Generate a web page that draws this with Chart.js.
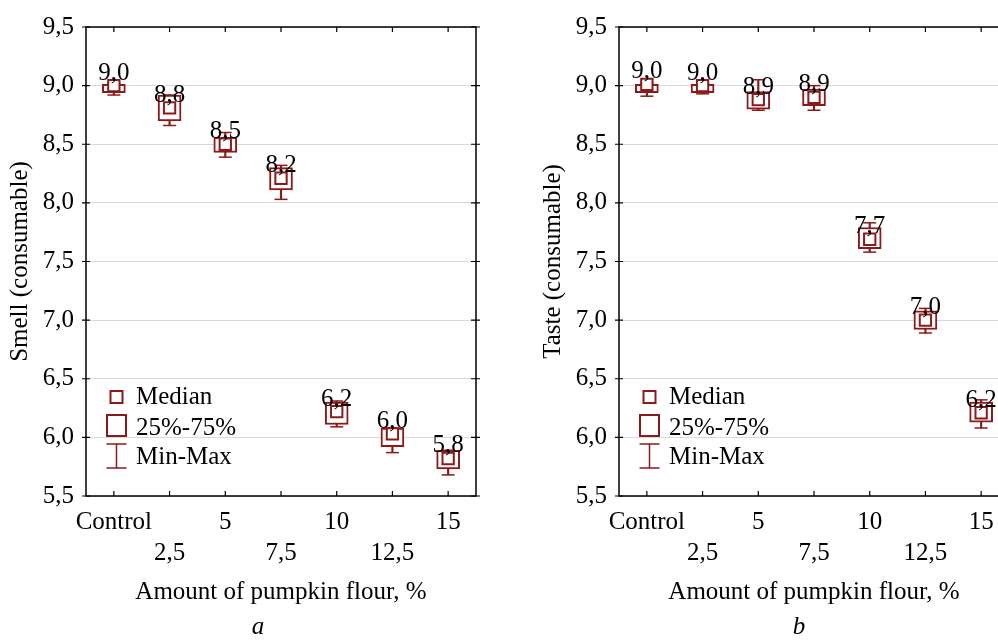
<!DOCTYPE html>
<html>
<head>
<meta charset="utf-8">
<script src="https://cdn.jsdelivr.net/npm/chart.js@4.4.1/dist/chart.umd.min.js"></script>
<style>
  html, body { margin: 0; padding: 0; background: #fff; overflow: hidden; }
  #wrap { position: relative; width: 998px; height: 641px; overflow: hidden; }
  .panel { position: absolute; top: 0; }
</style>
</head>
<body>
<div id="wrap">
  <canvas id="smell-chart" class="panel" width="533" height="641" style="left:0"></canvas>
  <canvas id="taste-chart" class="panel" width="533" height="641" style="left:533px"></canvas>
</div>
<script>
// Categories (pumpkin flour amount)
const categories = ['Control', '2,5', '5', '7,5', '10', '12,5', '15'];

// Smell scores: median, quartiles, min-max
const smellMedian = [9.0, 8.81, 8.5, 8.21, 6.22, 6.03, 5.82];
const smellQ1 = [8.94, 8.70, 8.43, 8.11, 6.11, 5.92, 5.73];
const smellQ3 = [9.01, 8.92, 8.56, 8.30, 6.30, 6.08, 5.89];
const smellMin = [8.92, 8.66, 8.39, 8.03, 6.09, 5.87, 5.68];
const smellMax = [9.02, 8.92, 8.60, 8.32, 6.31, 6.08, 5.89];

// Taste scores: median, quartiles, min-max
const tasteMedian = [9.01, 9.0, 8.88, 8.9, 7.69, 7.0, 6.21];
const tasteQ1 = [8.94, 8.94, 8.80, 8.83, 7.61, 6.92, 6.13];
const tasteQ3 = [9.01, 9.01, 8.95, 8.97, 7.79, 7.08, 6.30];
const tasteMin = [8.91, 8.93, 8.79, 8.79, 7.58, 6.89, 6.08];
const tasteMax = [9.02, 9.02, 9.05, 9.00, 7.83, 7.10, 6.32];

// Y axis range and step
const yMin = 5.5;
const yMax = 9.5;
const yStep = 0.5;

const RED = 'rgb(140, 26, 26)';
const FONT = '"Liberation Serif", "Times New Roman", serif';

const comma = (v) => v.toFixed(1).replace('.', ',');

// Frame round the plot area with small inward ticks
const framePlugin = {
    id: 'frame',
    beforeDatasetsDraw(chart) {
        const { ctx, chartArea: a, scales: { x, y } } = chart;
        ctx.save();
        ctx.strokeStyle = '#000';
        ctx.lineWidth = 1.5;
        ctx.strokeRect(a.left, a.top, a.right - a.left, a.bottom - a.top);
        ctx.lineWidth = 1.2;
        ctx.beginPath();
        x.ticks.forEach((t, i) => {
            const px = x.getPixelForTick(i);
            ctx.moveTo(px, a.bottom); ctx.lineTo(px, a.bottom - 5);
            ctx.moveTo(px, a.top); ctx.lineTo(px, a.top + 5);
        });
        y.ticks.forEach((t, i) => {
            const py = y.getPixelForTick(i);
            ctx.moveTo(a.left - 4, py); ctx.lineTo(a.left + 4, py);
            ctx.moveTo(a.right - 5, py); ctx.lineTo(a.right + 4, py);
        });
        ctx.stroke();
        ctx.restore();
    }
};

// Median value written above each box
const valueLabels = {
    id: 'valueLabels',
    afterDatasetsDraw(chart) {
        const { ctx } = chart;
        const meta = chart.getDatasetMeta(0);
        const values = chart.data.datasets[0].data;
        ctx.save();
        ctx.font = '25px ' + FONT;
        ctx.fillStyle = '#000';
        ctx.textAlign = 'center';
        ctx.textBaseline = 'alphabetic';
        meta.data.forEach((pt, i) => {
            ctx.fillText(comma(values[i]), pt.x, pt.y - 6);
        });
        ctx.restore();
    }
};

// Legend in the lower left corner of the plot, and the panel letter
const boxLegend = {
    id: 'boxLegend',
    afterDatasetsDraw(chart, args, opts) {
        const { ctx, chartArea: a } = chart;
        const cx = a.left + 30.5;
        const tx = a.left + 50;
        const b = a.bottom;
        ctx.save();
        ctx.strokeStyle = RED;
        ctx.lineWidth = 2;
        ctx.strokeRect(cx - 6, b - 105, 12, 12);
        ctx.strokeRect(cx - 9.5, b - 81, 19, 21);
        ctx.lineWidth = 1.5;
        ctx.beginPath();
        ctx.moveTo(cx - 10, b - 52); ctx.lineTo(cx + 10, b - 52);
        ctx.moveTo(cx, b - 52); ctx.lineTo(cx, b - 28);
        ctx.moveTo(cx - 10, b - 28); ctx.lineTo(cx + 10, b - 28);
        ctx.stroke();
        ctx.font = '25px ' + FONT;
        ctx.fillStyle = '#000';
        ctx.textAlign = 'left';
        ctx.textBaseline = 'middle';
        ctx.fillText('Median', tx, b - 99);
        ctx.fillText('25%-75%', tx, b - 68);
        ctx.fillText('Min-Max', tx, b - 39);
        // panel letter under the axis title
        ctx.font = 'italic 25px ' + FONT;
        ctx.textAlign = 'center';
        ctx.fillText(opts.letter, opts.x, chart.height - 14);
        ctx.restore();
    }
};

function boxDatasets(medians, q1, q3, mins, maxs) {
    return [
        {
            type: 'line', data: medians, showLine: false, order: 0,
            pointStyle: 'rect', pointRadius: 8, pointBackgroundColor: '#fff',
            pointBorderColor: RED, pointBorderWidth: 2
        },
        {
            type: 'bar', data: q1.map((v, i) => [v, q3[i]]), order: 1,
            backgroundColor: '#fff', borderColor: RED, borderWidth: 2,
            borderSkipped: false, barThickness: 23, grouped: false
        },
        {
            type: 'line', data: mins, showLine: false, order: 2,
            pointStyle: 'line', pointRadius: 6.5, pointBorderColor: RED, pointBorderWidth: 1.5
        },
        {
            type: 'line', data: maxs, showLine: false, order: 2,
            pointStyle: 'line', pointRadius: 6.5, pointBorderColor: RED, pointBorderWidth: 1.5
        },
        {
            type: 'bar', data: mins.map((v, i) => [v, maxs[i]]), order: 3,
            backgroundColor: RED, barThickness: 1.5, grouped: false
        }
    ];
}

function makeChart(canvasId, yTitle, letter, letterX, medians, q1, q3, mins, maxs) {
    const ctx = document.getElementById(canvasId).getContext('2d');
    return new Chart(ctx, {
        type: 'bar',
        data: {
            labels: categories,
            datasets: boxDatasets(medians, q1, q3, mins, maxs)
        },
        options: {
            responsive: false,
            animation: false,
            events: [],
            layout: { padding: { left: 0, right: 57, top: 24, bottom: 30 } },
            scales: {
                x: {
                    grid: { display: false, drawTicks: false },
                    border: { display: false },
                    ticks: {
                        color: '#000',
                        font: { family: FONT, size: 25, lineHeight: 1.24 },
                        padding: 10.5,
                        autoSkip: false,
                        maxRotation: 0,
                        callback: (v, i) => (i % 2 ? ['', categories[i]] : categories[i])
                    },
                    title: {
                        display: true,
                        text: 'Amount of pumpkin flour, %',
                        color: '#000',
                        font: { family: FONT, size: 25, lineHeight: 1.2 },
                        padding: { top: 0, bottom: 4 }
                    },
                    afterFit: (scale) => { scale.height = 115; }
                },
                y: {
                    min: yMin,
                    max: yMax,
                    grid: { color: '#d9d9d9', lineWidth: 1, drawTicks: false },
                    border: { display: false },
                    ticks: {
                        stepSize: yStep,
                        color: '#000',
                        font: { family: FONT, size: 25 },
                        padding: 12,
                        callback: (v) => comma(v)
                    },
                    title: {
                        display: true,
                        text: yTitle,
                        color: '#000',
                        font: { family: FONT, size: 25, lineHeight: 1.2 },
                        padding: { top: 5, bottom: 0 }
                    },
                    afterFit: (scale) => { scale.width = 86; }
                }
            },
            plugins: {
                legend: { display: false },
                tooltip: { enabled: false },
                boxLegend: { letter: letter, x: letterX }
            }
        },
        plugins: [framePlugin, valueLabels, boxLegend]
    });
}

makeChart('smell-chart', 'Smell (consumable)', 'a', 258, smellMedian, smellQ1, smellQ3, smellMin, smellMax);
makeChart('taste-chart', 'Taste (consumable)', 'b', 266, tasteMedian, tasteQ1, tasteQ3, tasteMin, tasteMax);
</script>
</body>
</html>
